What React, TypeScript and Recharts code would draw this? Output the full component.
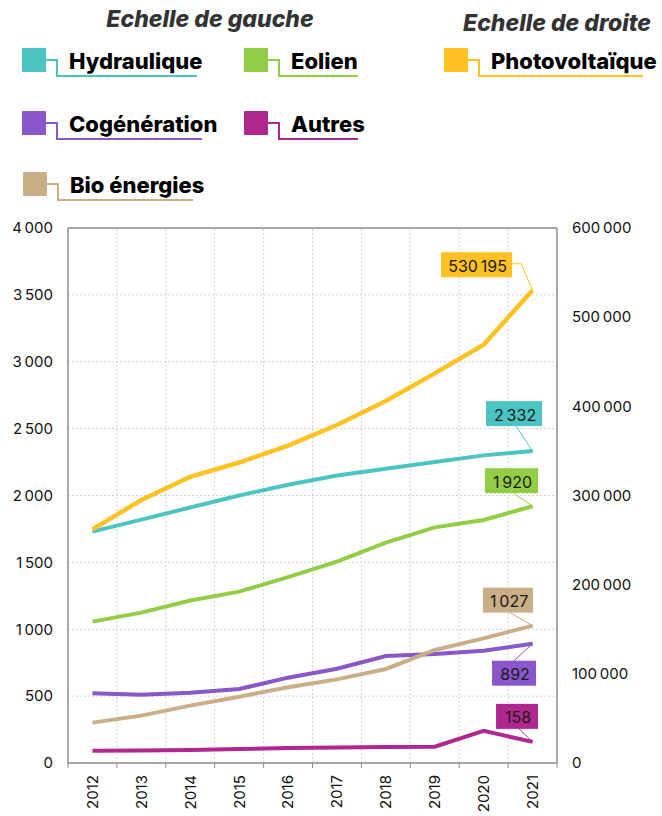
import { LineChart, Line, XAxis, YAxis, CartesianGrid, ReferenceLine } from 'recharts'

const years = [2012, 2013, 2014, 2015, 2016, 2017, 2018, 2019, 2020, 2021]
const hydraulique = [1730, 1820, 1910, 2000, 2080, 2150, 2200, 2250, 2300, 2332]
const eolien = [1057, 1124, 1215, 1281, 1390, 1505, 1648, 1762, 1817, 1920]
const cogeneration = [521, 510, 525, 553, 638, 705, 800, 815, 840, 892]
const autres = [92, 93, 98, 105, 112, 116, 120, 122, 240, 158]
const bioEnergies = [302, 354, 429, 496, 566, 625, 703, 845, 932, 1027]
const photovoltaique = [262000, 295000, 321000, 337000, 356000, 379000, 406000, 437000, 469000, 530195]

const leftTicks = [0, 500, 1000, 1500, 2000, 2500, 3000, 3500, 4000]
const rightTicks = [0, 100000, 200000, 300000, 400000, 500000, 600000]

const boundaries = [...years.map((y) => y - 0.5), years[years.length - 1] + 0.5]
const xTicks = [...boundaries, ...years].sort((a, b) => a - b)

const data = years.map((year, i) => ({
  year,
  hydraulique: hydraulique[i],
  eolien: eolien[i],
  cogeneration: cogeneration[i],
  autres: autres[i],
  bioEnergies: bioEnergies[i],
  photovoltaique: photovoltaique[i],
}))

const COLORS = {
  hydraulique: '#4dc4c4',
  eolien: '#93cd45',
  photovoltaique: '#ffc222',
  cogeneration: '#8957c9',
  autres: '#b0278f',
  bioEnergies: '#c9ae86',
}

const FONT = 'Inter, "Noto Sans", sans-serif'
const GRID = '#d2d2d2'
const FRAME = '#8c8c8c'

// box placement of the end labels, relative to the last point
const endBoxes: Record<string, { dx: number; dy: number; w: number; anchor: 'right' | 'bottom' | 'top' }> = {
  photovoltaique: { dx: -56, dy: -25.5, w: 71, anchor: 'right' },
  hydraulique: { dx: -18.5, dy: -37.5, w: 56, anchor: 'bottom' },
  eolien: { dx: -21, dy: -25.5, w: 53, anchor: 'bottom' },
  bioEnergies: { dx: -24.5, dy: -25.5, w: 50, anchor: 'bottom' },
  cogeneration: { dx: -18.5, dy: 29.5, w: 44, anchor: 'top' },
  autres: { dx: -15.5, dy: -25.5, w: 42, anchor: 'bottom' },
}

const fmt = (v: number) => String(Math.round(v)).replace(/\B(?=(\d{3})+(?!\d))/g, '\u202f')

function YearTick({ x, y, payload }: any) {
  const v = payload.value
  if (!Number.isInteger(v)) {
    return <line x1={x} x2={x} y1={y} y2={y + 5} stroke={FRAME} strokeWidth={1} />
  }
  return (
    <text
      x={x}
      y={y + 12}
      dy="0.36em"
      transform={`rotate(-90, ${x}, ${y + 12})`}
      textAnchor="end"
      fontFamily={FONT}
      fontSize={15}
      fill="#111"
    >
      {v}
    </text>
  )
}

function makeEndDot(key: string) {
  return (p: any) => {
    if (p.index !== years.length - 1) return <g key={`${key}-${p.index}`} />
    const box = endBoxes[key]
    const color = (COLORS as any)[key]
    const x = p.cx
    const y = p.cy
    const cx = x + box.dx
    const cy = y + box.dy
    const left = cx - box.w / 2
    const top = cy - 12.5
    let pts = ''
    if (box.anchor === 'right') pts = `${left + box.w},${cy - 1} ${left + box.w + 9},${cy - 1} ${x},${y}`
    else if (box.anchor === 'bottom') pts = `${cx + 2},${top + 25} ${x},${y}`
    else pts = `${cx},${top} ${x},${y}`
    return (
      <g key={`${key}-${p.index}`}>
        <polyline points={pts} fill="none" stroke={color} strokeWidth={1} />
        <rect x={left} y={top} width={box.w} height={25} fill={color} />
        <text
          x={cx + 1}
          y={cy + 1}
          textAnchor="middle"
          dominantBaseline="central"
          fontFamily={FONT}
          fontSize={16}
          fill="#1a1a1a"
        >
          {fmt(p.payload[key])}
        </text>
      </g>
    )
  }
}

const legendItems = [
  { key: 'hydraulique', label: 'Hydraulique', x: 22, y: 48, end: 197 },
  { key: 'eolien', label: 'Eolien', x: 244, y: 48, end: 358 },
  { key: 'photovoltaique', label: 'Photovoltaïque', x: 444, y: 48, end: 643 },
  { key: 'cogeneration', label: 'Cogénération', x: 22, y: 111, end: 202 },
  { key: 'autres', label: 'Autres', x: 244, y: 111, end: 358 },
  { key: 'bioEnergies', label: 'Bio énergies', x: 23, y: 172, end: 193 },
]

function Legend() {
  return (
    <svg width={662} height={210} style={{ position: 'absolute', left: 0, top: 0 }}>
      <text x={210} y={27} textAnchor="middle" fontFamily={FONT} fontSize={23} fontWeight={800} fontStyle="italic" fill="#333">
        Echelle de gauche
      </text>
      <text x={557} y={31} textAnchor="middle" fontFamily={FONT} fontSize={23} fontWeight={800} fontStyle="italic" fill="#333">
        Echelle de droite
      </text>
      {legendItems.map((it) => {
        const color = (COLORS as any)[it.key]
        const midY = it.y + 12
        const lineY = it.y + 28
        const elbow = it.x + 35
        return (
          <g key={it.key}>
            <rect x={it.x} y={it.y} width={24} height={24} rx={1} fill={color} />
            <polyline
              points={`${it.x + 24},${midY} ${elbow},${midY} ${elbow},${lineY} ${it.end},${lineY}`}
              fill="none"
              stroke={color}
              strokeWidth={2}
            />
            <text x={it.x + 47} y={it.y + 21} fontFamily={FONT} fontSize={22} fontWeight={800} fill="#000">
              {it.label}
            </text>
          </g>
        )
      })}
    </svg>
  )
}

const leftSeries = ['hydraulique', 'eolien', 'cogeneration', 'bioEnergies', 'autres']

export default function App() {
  return (
    <div style={{ position: 'absolute', left: 0, top: 0, width: 662, height: 816, background: '#fff' }}>
      <Legend />
      <LineChart
        width={662}
        height={816}
        data={data}
        margin={{ top: 228, right: 10, bottom: 8, left: 8 }}
        style={{ position: 'absolute', left: 0, top: 0 }}
      >
        <CartesianGrid yAxisId="left" vertical={false} stroke={GRID} strokeDasharray="2 2" />
        <XAxis
          dataKey="year"
          type="number"
          domain={[years[0] - 0.5, years[years.length - 1] + 0.5]}
          ticks={xTicks}
          interval={0}
          height={45}
          tickSize={0}
          tickMargin={0}
          tickLine={false}
          axisLine={{ stroke: FRAME, strokeWidth: 1.5 }}
          tick={<YearTick />}
        />
        <YAxis
          yAxisId="left"
          domain={[0, 4000]}
          ticks={leftTicks}
          width={60}
          tickSize={0}
          tickMargin={15}
          tickLine={false}
          axisLine={{ stroke: FRAME, strokeWidth: 1.5 }}
          tickFormatter={fmt}
          tick={{ fontFamily: FONT, fontSize: 15, fill: '#111' }}
        />
        <YAxis
          yAxisId="right"
          orientation="right"
          domain={[0, 600000]}
          ticks={rightTicks}
          width={95}
          tickSize={0}
          tickMargin={15}
          tickLine={false}
          axisLine={{ stroke: FRAME, strokeWidth: 1.5 }}
          tickFormatter={fmt}
          tick={{ fontFamily: FONT, fontSize: 15, fill: '#111', textAnchor: 'start' }}
        />
        {boundaries.slice(1, -1).map((b) => (
          <ReferenceLine key={b} x={b} yAxisId="left" stroke={GRID} strokeDasharray="2 2" />
        ))}
        <ReferenceLine y={4000} yAxisId="left" stroke={FRAME} strokeWidth={1.5} />
        {leftSeries.map((key) => (
          <Line
            key={key}
            yAxisId="left"
            dataKey={key}
            type="linear"
            stroke={(COLORS as any)[key]}
            strokeWidth={4}
            dot={makeEndDot(key)}
            activeDot={false}
            isAnimationActive={false}
          />
        ))}
        <Line
          yAxisId="right"
          dataKey="photovoltaique"
          type="linear"
          stroke={COLORS.photovoltaique}
          strokeWidth={4.5}
          dot={makeEndDot('photovoltaique')}
          activeDot={false}
          isAnimationActive={false}
        />
      </LineChart>
    </div>
  )
}
